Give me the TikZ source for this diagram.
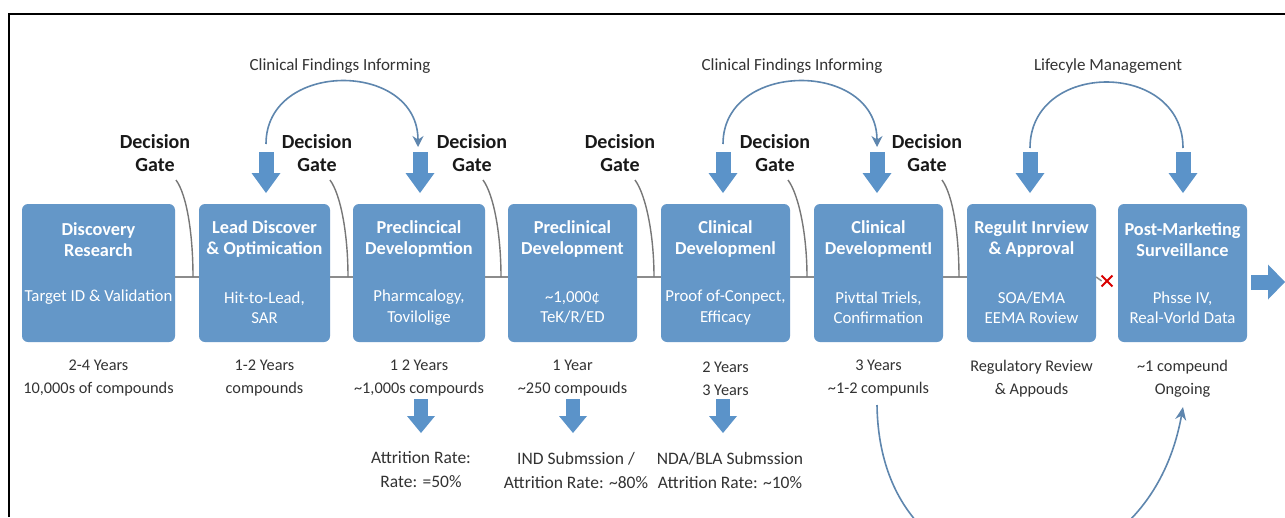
\documentclass[tikz,border=0pt]{standalone}
\usepackage{fontspec}
\setmainfont{Carlito}
\usetikzlibrary{arrows.meta,shapes.misc}
\definecolor{boxblue}{HTML}{6497C8}
\definecolor{arrblue}{HTML}{5B93C9}
\definecolor{arcblue}{HTML}{5E86AE}
\definecolor{txtgray}{HTML}{333333}
\definecolor{linegray}{HTML}{8C8C8C}
\begin{document}
\begin{tikzpicture}[x=1pt,y=-1pt,
  box/.style={fill=boxblue, rounded corners=6pt, minimum height=138pt, inner sep=0pt},
  ttl/.style={text=white, font=\fontsize{18.3}{21}\selectfont\bfseries, align=center, inner sep=0pt},
  sub/.style={text=white, font=\fontsize{16.8}{20.5}\selectfont, align=center, inner sep=0pt},
  info/.style={text=txtgray, font=\fontsize{16.3}{23}\selectfont, align=center, inner sep=0pt},
  attr/.style={text=txtgray, font=\fontsize{17.5}{24}\selectfont, align=center, inner sep=0pt},
  gate/.style={text=black!90, font=\fontsize{20}{23}\selectfont\bfseries, align=center, inner sep=0pt},
  arclbl/.style={text=txtgray, font=\fontsize{17}{19}\selectfont, inner sep=0pt},
  conn/.style={draw=linegray, line width=1.5pt},
  gatecurve/.style={draw=linegray!85!black, line width=1.4pt},
  arcline/.style={draw=arcblue, line width=1.6pt},
  blockdown/.style={draw=arrblue, line width=15pt, -{Triangle[width=29pt,length=20pt,line width=0pt]}},
]
\useasboundingbox (0,0) rectangle (1285,517);
\fill[white] (0,0) rectangle (1285,517);
\draw[line width=2pt] (8.5,517) -- (8.5,14) -- (1285,14);

% boxes
\node[box, minimum width=153pt] (b1) at (98.5,273) {};
\node[box, minimum width=131pt] (b2) at (264.5,273) {};
\node[box, minimum width=132pt] (b3) at (419,273) {};
\node[box, minimum width=129pt] (b4) at (572.5,273) {};
\node[box, minimum width=129pt] (b5) at (725.5,273) {};
\node[box, minimum width=129pt] (b6) at (878.5,273) {};
\node[box, minimum width=129pt] (b7) at (1031.5,273) {};
\node[box, minimum width=129pt] (b8) at (1182.5,273) {};

% titles
\node[ttl] (t1) at (98.5,239.5) {Discovery\\Research};
\node[ttl] (t2) at (264.5,239.5) {Lead Discover\\\& Optimication};
\node[ttl] (t3) at (419,239.5) {Preclincical\\Developmtion};
\node[ttl] (t4) at (572.5,239.5) {Preclinical\\Development};
\node[ttl] (t5) at (725.5,239.5) {Clinical\\Developmenl};
\node[ttl] (t6) at (878.5,239.5) {Clinical\\DevelopmentI};
\node[ttl] (t7) at (1031.5,239.5) {Regulıt Inrview\\\& Approval};
\node[ttl] (t8) at (1182.5,239.5) {Post-Marketing\\Surveillance};

% subtitles
\node[sub] (s1) at (98.5,297) {Target ID \& Validation};
\node[sub] (s2) at (264.5,307.5) {Hit-to-Lead,\\SAR};
\node[sub] (s3) at (419,307.5) {Pharmcalogy,\\Tovilolige};
\node[sub] (s4) at (572.5,307.5) {\textasciitilde1,000¢\\TeK/R/ED};
\node[sub] (s5) at (725.5,307.5) {Proof of-Conpect,\\Efficacy};
\node[sub] (s6) at (878.5,307.5) {Pivttal Triels,\\Confirmation};
\node[sub] (s7) at (1031.5,307.5) {SOA/EMA\\EEMA Roview};
\node[sub] (s8) at (1182.5,307.5) {Phsse IV,\\Real-Vorld Data};

% info below
\node[info] (i1) at (98.5,378.5) {2-4 Years\\10,000s of compounds};
\node[info] (i2) at (264.5,378.5) {1-2 Years\\compounds};
\node[info] (i3) at (419,378.5) {1 2 Years\\\textasciitilde1,000s compourds};
\node[info] (i4) at (572.5,378.5) {1 Year\\\textasciitilde250 compouıds};
\node[info] (i5) at (725.5,378.5) {2 Years\\3 Years};
\node[info] (i6) at (878.5,378.5) {3 Years\\\textasciitilde1-2 compunıls};
\node[info] (i7) at (1031.5,378.5) {Regulatory Review\\\& Appouds};
\node[info] (i8) at (1182.5,378.5) {\textasciitilde1 compeund\\Ongoing};

% attrition texts
\node[attr] (a3) at (421,470) {Attrition Rate:\\Rate: =50\%};
\node[attr] (a4) at (576,470) {IND Submssion /\\Attrition Rate: \textasciitilde80\%};
\node[attr] (a5) at (730,470) {NDA/BLA Submssion\\Attrition Rate: \textasciitilde10\%};

% decision gates
\node[gate] (d1) at (155,153) {Decision\\Gate};
\node[gate] (d2) at (317,153) {Decision\\Gate};
\node[gate] (d3) at (472,153) {Decision\\Gate};
\node[gate] (d4) at (620,153) {Decision\\Gate};
\node[gate] (d5) at (775,153) {Decision\\Gate};
\node[gate] (d6) at (927,153) {Decision\\Gate};

% horizontal connectors
\draw[conn] ([yshift=-4pt]b1.east) -- ([yshift=-4pt]b2.west);
\draw[conn] ([yshift=-4pt]b2.east) -- ([yshift=-4pt]b3.west);
\draw[conn] ([yshift=-4pt]b3.east) -- ([yshift=-4pt]b4.west);
\draw[conn] ([yshift=-4pt]b4.east) -- ([yshift=-4pt]b5.west);
\draw[conn] ([yshift=-4pt]b5.east) -- ([yshift=-4pt]b6.west);
\draw[conn] ([yshift=-4pt]b6.east) -- ([yshift=-4pt]b7.west);
\node[cross out, draw=red!85!black, line width=1.8pt, minimum size=9pt, inner sep=0pt] (xx) at (1107,281) {};
\draw[conn] ([yshift=-4pt]b7.east) -- (xx.west);

% decision gate curves
\coordinate (gs1) at (176,180); \coordinate (ge1) at (193,277);
\coordinate (gs2) at (330,180); \coordinate (ge2) at (348,277);
\coordinate (gs3) at (483,180); \coordinate (ge3) at (501,277);
\coordinate (gs4) at (635,180); \coordinate (ge4) at (654,277);
\coordinate (gs5) at (788,180); \coordinate (ge5) at (807,277);
\coordinate (gs6) at (942,180); \coordinate (ge6) at (959,277);
\foreach \i in {1,...,6}{
  \draw[gatecurve] (gs\i) .. controls ([shift={(11,15)}]gs\i) and ([shift={(0,-42)}]ge\i) .. (ge\i);
}

% block arrows above boxes
\foreach \n/\x in {2/266,3/420,5/723,6/877,7/1030,8/1183}{
  \coordinate (ua\n) at (\x,152);
  \coordinate (ub\n) at (\x,193);
  \draw[blockdown] (ua\n) -- (ub\n);
}
% block arrows below
\foreach \n/\x in {3/421,4/573,5/723}{
  \coordinate (la\n) at (\x,399);
  \coordinate (lb\n) at (\x,433);
  \draw[draw=arrblue, line width=14pt, -{Triangle[width=28pt,length=17pt,line width=0pt]}] (la\n) -- (lb\n);
}
% right arrow
\coordinate (ra) at (1251,282);
\coordinate (rb) at (1285,282);
\draw[draw=arrblue, line width=15pt, -{Triangle[width=35pt,length=17pt,line width=0pt]}] (ra) -- (rb);

% top arcs
\node[arclbl] (c1) at (340,66) {Clinical Findings Informing};
\node[arclbl] (c2) at (792,66) {Clinical Findings Informing};
\node[arclbl] (c3) at (1108,66) {Lifecyle Management};
\coordinate (as1) at (266,144); \coordinate (ae1) at (418,147);
\coordinate (as2) at (723,144); \coordinate (ae2) at (877,147);
\coordinate (as3) at (1030,148); \coordinate (ae3) at (1183,148);
\draw[arcline, -{Stealth[length=11pt,width=11pt]}] (as1) .. controls (266,60) and (418,60) .. (ae1);
\draw[arcline, -{Stealth[length=11pt,width=11pt]}] (as2) .. controls (723,60) and (877,60) .. (ae2);
\draw[arcline] (as3) .. controls (1030,60) and (1183,60) .. (ae3);

% bottom arc
\coordinate (bs) at (877,405);
\coordinate (be) at (1183,407);
\begin{scope}
\clip (0,0) rectangle (1285,517);
\draw[arcline, -{Stealth[length=13pt,width=11pt]}] (bs) .. controls (880,620) and (1145,620) .. (be);
\end{scope}
\end{tikzpicture}
\end{document}
